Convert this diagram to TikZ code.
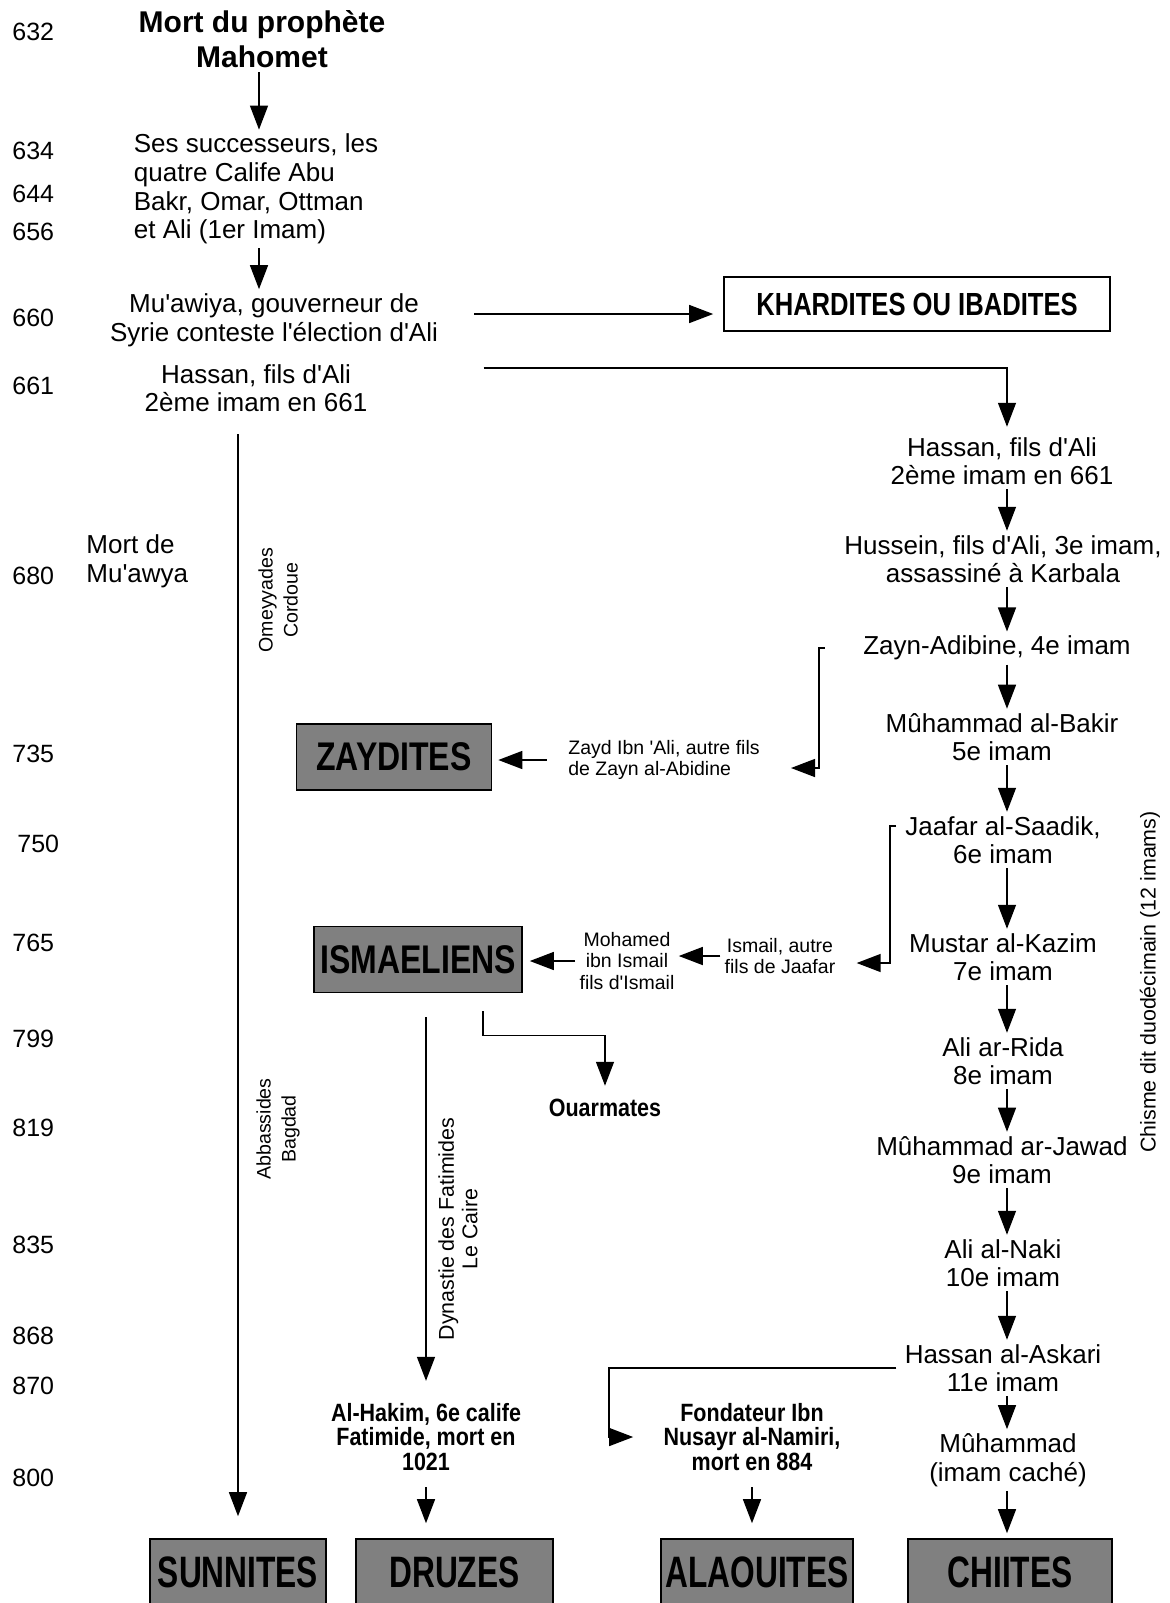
\documentclass[tikz,border=0pt]{standalone}
\usepackage{fontspec}
\setmainfont{Liberation Sans}[Ligatures=TeXOff]
\newfontfamily\condfont[FakeStretch=0.8]{Liberation Sans}
\newfontfamily\tallfont[FakeStretch=0.72]{Liberation Sans}
\newfontfamily\semifont[FakeStretch=0.86]{Liberation Sans}
\usetikzlibrary{arrows.meta}

\tikzset{
  fleche/.style={-{Triangle[length=12pt,width=9pt]}, line width=0.7pt},
  txt/.style={font=\fontsize{13}{14.3}\selectfont, align=center, inner sep=2pt},
  annee/.style={font=\fontsize{12.5}{14}\selectfont, anchor=west, inner sep=0pt},
  petit/.style={font=\fontsize{9.75}{10.75}\selectfont, align=center, inner sep=2pt},
  vert/.style={font=\fontsize{10.7}{11.8}\selectfont, align=center, rotate=90, inner sep=0pt},
  gras/.style={font=\semifont\bfseries\fontsize{12.5}{12.3}\selectfont, align=center, inner sep=2pt},
  secte/.style={draw, line width=0.8pt, fill=black!50, font=\condfont\bfseries\fontsize{20}{20}\selectfont,
    minimum width=#1, minimum height=33pt, inner sep=0pt},
  finale/.style={draw, line width=0.8pt, fill=black!50, font=\tallfont\bfseries\fontsize{22}{22}\selectfont,
    minimum width=#1, minimum height=33pt, inner sep=0pt},
}

\begin{document}
\begin{tikzpicture}[x=0.5pt, y=-0.5pt]
      % cadre de la page
      \path[use as bounding box] (0,0) rectangle (1170,1603);
      \clip (0,0) rectangle (1170,1603);

      % colonne des annees
      \node[annee] (a632) at (12,32) {632};
      \node[annee] (a634) at (12,151) {634};
      \node[annee] (a644) at (12,194) {644};
      \node[annee] (a656) at (12,232) {656};
      \node[annee] (a660) at (12,318) {660};
      \node[annee] (a661) at (12,386) {661};
      \node[annee] (a680) at (12,576) {680};
      \node[annee] (a735) at (12,754) {735};
      \node[annee] (a750) at (17,844) {750};
      \node[annee] (a765) at (12,943) {765};
      \node[annee] (a799) at (12,1039) {799};
      \node[annee] (a819) at (12,1128) {819};
      \node[annee] (a835) at (12,1245) {835};
      \node[annee] (a868) at (12,1336) {868};
      \node[annee] (a870) at (12,1386) {870};
      \node[annee] (a800) at (12,1478) {800};

      % debut de l'histoire
      \node[font=\bfseries\fontsize{15}{17.5}\selectfont, align=center, inner sep=2pt] (mort) at (262,39) {Mort du prophète\\Mahomet};
      \node[txt, align=left] (succ) at (256,189) {Ses successeurs, les\\quatre Calife Abu\\Bakr, Omar, Ottman\\et Ali (1er Imam)};
      \node[txt] (muaw) at (274,320) {Mu'awiya, gouverneur de\\Syrie conteste l'élection d'Ali};
      \node[txt] (hassL) at (256,388) {Hassan, fils d'Ali\\2ème imam en 661};
      \node[txt, align=left, anchor=west] (mortMu) at (82,561) {Mort de\\Mu'awya};
      \coordinate (axeG) at (259,0);
      \draw[fleche] (mort.south -| axeG) -- (succ.north -| axeG);
      \draw[fleche] (succ.south -| axeG) -- (muaw.north -| axeG);

      % khardites
      \node[draw, line width=0.8pt, minimum width=193pt, minimum height=27pt,
        font=\condfont\bfseries\fontsize{16}{16}\selectfont] (khar) at (917,304) {KHARDITES OU IBADITES};
      \draw[fleche, shorten <=16pt, shorten >=5pt] ([yshift=3pt]muaw.east) -- ([yshift=3pt]muaw.east -| khar.west);

      % colonne des imams
      \coordinate (rx) at (1007,0);
      \node[txt] (hassR) at (1002,461) {Hassan, fils d'Ali\\2ème imam en 661};
      \node[txt] (hussein) at (1003,559) {Hussein, fils d'Ali, 3e imam,\\assassiné à Karbala};
      \node[txt] (zayn) at (997,648) {Zayn-Adibine, 4e imam};
      \node[txt] (bakir) at (1002,737) {Mûhammad al-Bakir\\5e imam};
      \node[txt] (jaafar) at (1003,840) {Jaafar al-Saadik,\\6e imam};
      \node[txt] (kazim) at (1003,957) {Mustar al-Kazim\\7e imam};
      \node[txt] (rida) at (1003,1061) {Ali ar-Rida\\8e imam};
      \node[txt] (jawad) at (1002,1160) {Mûhammad ar-Jawad\\9e imam};
      \node[txt] (naki) at (1003,1263) {Ali al-Naki\\10e imam};
      \node[txt] (askari) at (1003,1368) {Hassan al-Askari\\11e imam};
      \node[txt] (mahdi) at (1008,1460) {Mûhammad\\(imam caché)};
      \node[vert] (chisme) at (1150,982) {Chisme dit duodécimain (12 imams)};

      \draw[fleche, shorten <=56pt, shorten >=3pt] ([yshift=10pt]hassL.east) -| (hassR.north -| rx);
      \draw[fleche] (hassR.south -| rx) -- (hussein.north -| rx);
      \draw[fleche] (hussein.south -| rx) -- (zayn.north -| rx);
      \draw[fleche] (zayn.south -| rx) -- (bakir.north -| rx);
      \draw[fleche] (bakir.south -| rx) -- (jaafar.north -| rx);
      \draw[fleche] (jaafar.south -| rx) -- (kazim.north -| rx);
      \draw[fleche] (kazim.south -| rx) -- (rida.north -| rx);
      \draw[fleche] (rida.south -| rx) -- (jawad.north -| rx);
      \draw[fleche] (jawad.south -| rx) -- (naki.north -| rx);
      \draw[fleche] (naki.south -| rx) -- (askari.north -| rx);
      \draw[fleche] (askari.south -| rx) -- (mahdi.north -| rx);

      % zaydites
      \node[secte=97.5pt] (zaydB) at (394,757) {ZAYDITES};
      \node[petit, align=left] (zaydT) at (664,760) {Zayd Ibn 'Ali, autre fils\\de Zayn al-Abidine};
      \draw[fleche, shorten <=17pt, shorten >=13.5pt] (zayn.west) -- ++(-40,0) |- ([yshift=-4pt]zaydT.east);
      \draw[fleche, shorten <=8.5pt, shorten >=3pt] (zaydT.west) -- (zaydT.west -| zaydB.east);

      % ismaeliens
      \node[secte=104pt] (isma) at (418,959.5) {ISMAELIENS};
      \node[petit] (ismT) at (780,956) {Ismail, autre\\fils de Jaafar};
      \node[petit] (mohT) at (627,961) {Mohamed\\ibn Ismail\\fils d'Ismail};
      \draw[fleche, shorten <=2.5pt, shorten >=8.5pt] ([yshift=7pt]jaafar.west) -- ++(-11,0) |- ([yshift=-3.5pt]ismT.east);
      \draw[fleche] (ismT.west) -- (ismT.west -| mohT.east);
      \draw[fleche, shorten >=3.5pt] (mohT.west) -- (mohT.west -| isma.east);

      % ouarmates et fatimides
      \node[gras] (ouar) at (605,1108) {Ouarmates};
      \node[gras] (hakim) at (426,1437) {Al-Hakim, 6e calife\\Fatimide, mort en\\1021};
      \node[vert] (fatim) at (458,1229) {Dynastie des Fatimides\\Le Caire};
      \draw[fleche, shorten <=9pt, shorten >=4.5pt] ([xshift=32.5pt]isma.south) -- ++(0,42) -| (ouar.north);
      \draw[fleche, shorten <=12pt, shorten >=9pt] (isma.south -| hakim.north) -- (hakim.north);

      % alaouites
      \node[gras] (fond) at (752,1437) {Fondateur Ibn\\Nusayr al-Namiri,\\mort en 884};
      \coordinate (coude) at (609,1437);
      \draw[fleche, shorten <=2pt, shorten >=13pt] (askari.west) -| (coude) -- (coude -| fond.west);

      % sunnites
      \node[vert, font=\fontsize{9.8}{12.5}\selectfont] (omey) at (278,600) {Omeyyades\\Cordoue};
      \node[vert, font=\fontsize{9.8}{12.5}\selectfont] (abbas) at (278,1129) {Abbassides\\Bagdad};

      % les quatre branches
      \node[finale=88pt] (sunni) at (238,1572) {SUNNITES};
      \node[finale=98.5pt] (druzes) at (454.5,1572) {DRUZES};
      \node[finale=96pt] (alao) at (757,1572) {ALAOUITES};
      \node[finale=102pt] (chiites) at (1010,1572) {CHIITES};
      \draw[fleche, shorten <=9pt, shorten >=11pt] (hassL.south -| sunni.north) -- (sunni.north);
      \draw[fleche, shorten <=6pt, shorten >=7.5pt] (hakim.south) -- (hakim.south |- druzes.north);
      \draw[fleche, shorten <=6pt, shorten >=7.5pt] (fond.south) -- (fond.south |- alao.north);
      \draw[fleche, shorten >=2.5pt] (mahdi.south -| rx) -- (chiites.north -| rx);
\end{tikzpicture}
\end{document}
